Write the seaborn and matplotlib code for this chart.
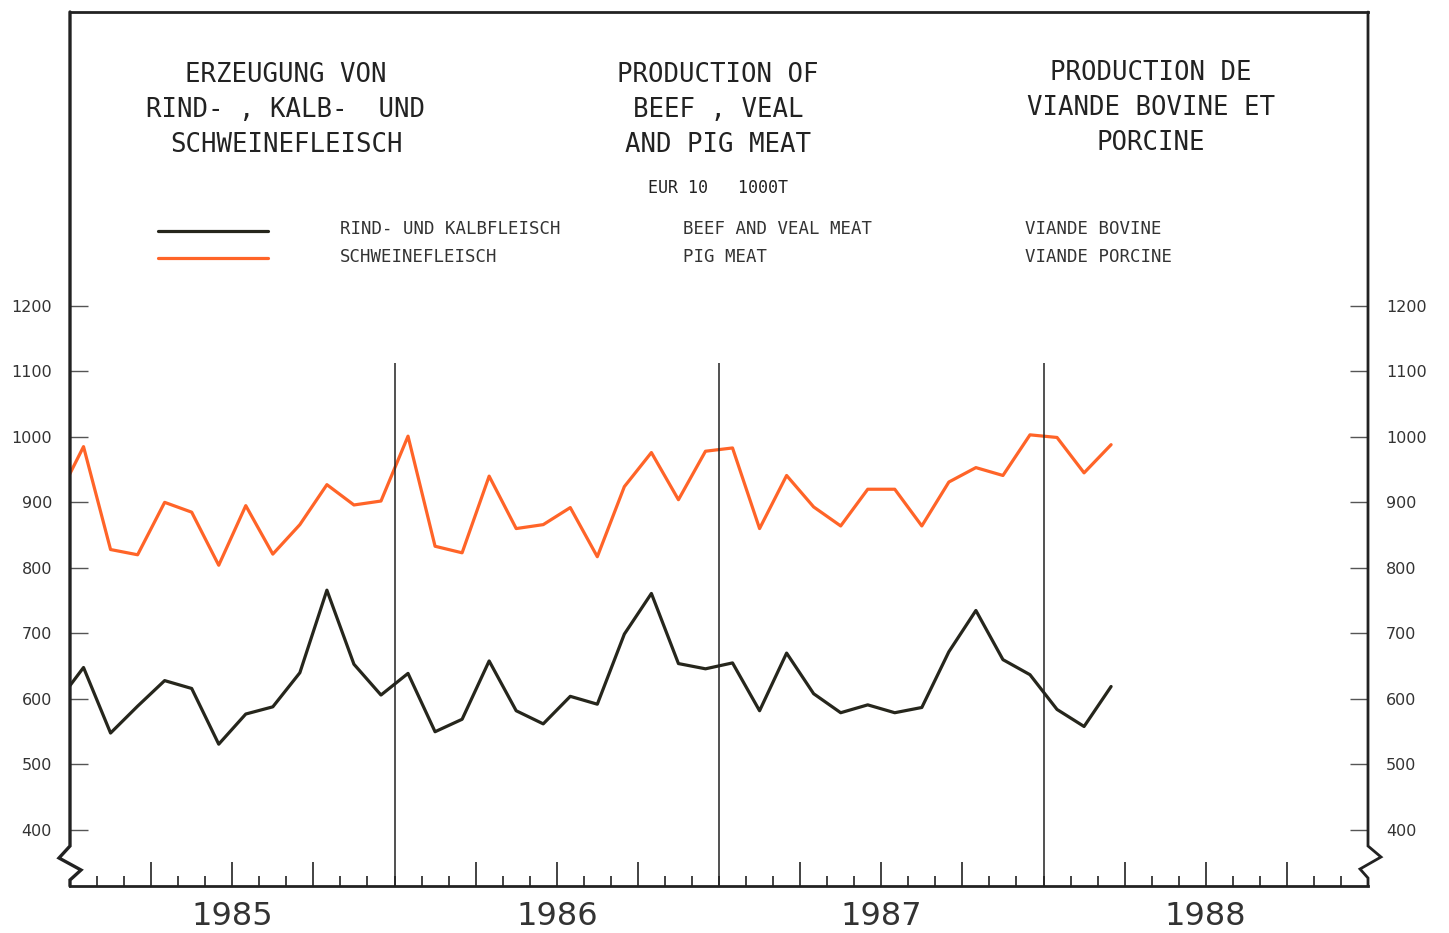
import numpy as np
import pandas as pd
import matplotlib
matplotlib.use('Agg')
import matplotlib.pyplot as plt
from matplotlib.lines import Line2D
import seaborn as sns

# ---- data (monthly, Dec 1984 .. Mar 1988), EUR 10, 1000 t ----
months = [str(p) for p in pd.period_range('1984-12', '1988-03', freq='M')]
beef_veal = [593, 648, 548, 589, 628, 616, 531, 577, 588, 640, 766, 653, 606,
             639, 550, 569, 658, 582, 562, 604, 592, 699, 761, 654, 646,
             655, 582, 670, 608, 579, 591, 579, 587, 672, 735, 660, 637,
             584, 558, 619]
pig_meat = [903, 985, 828, 820, 900, 885, 804, 895, 821, 866, 927, 896, 902,
            1001, 833, 823, 940, 860, 866, 892, 817, 924, 976, 904, 978,
            983, 860, 941, 893, 864, 920, 920, 864, 931, 953, 941, 1003,
            999, 945, 988]
years = ['1985', '1986', '1987', '1988']
y_ticks = [400, 500, 600, 700, 800, 900, 1000, 1100, 1200]

BLACK = '#26261c'
ORANGE = '#ff6428'
W, H = 1449, 933

def fx(px):
    return px / W

def fy(py):
    return 1 - py / H

sns.set_theme(style='white')
plt.rcParams['font.family'] = ['DejaVu Sans']

fig = plt.figure(figsize=(W / 100, H / 100), dpi=100)
fig.patch.set_facecolor('white')
ax = fig.add_axes([fx(70), fy(886), (1368 - 70) / W, (886 - 12) / H])
ax.set_facecolor('white')

per = pd.PeriodIndex(months, freq='M')
xpos = (per.year - 1985) * 12 + (per.month - 1) + 0.5
df = pd.DataFrame({'x': xpos, 'beef': beef_veal, 'pig': pig_meat})

sns.lineplot(data=df, x='x', y='beef', color=BLACK, lw=2.3, ax=ax, legend=False)
sns.lineplot(data=df, x='x', y='pig', color=ORANGE, lw=2.3, ax=ax, legend=False)

ax.set_xlim(0, 48)
ax.set_ylim(314.6, 1648.2)
ax.set_xlabel('')
ax.set_ylabel('')

# y axis both sides
ax.set_yticks(y_ticks)
ax.set_yticklabels([str(v) for v in y_ticks])
ax.tick_params(axis='y', which='major', direction='in', length=13, width=1,
               color='#555555', left=True, right=True, labelleft=True,
               labelright=True, pad=13, labelsize=11.5, labelcolor='#333333')
for lab in ax.get_yticklabels():
    lab.set_y(lab.get_position()[1])

# x axis: quarter ticks (long), monthly ticks (short), year labels mid-year
quarters = [m for m in range(1, 48) if m % 3 == 0 and m % 12 != 0]
ax.set_xticks(quarters)
labels = []
for m in quarters:
    if m % 12 == 6:
        labels.append(years[m // 12])
    else:
        labels.append('')
ax.set_xticklabels(labels)
ax.set_xticks(list(range(1, 48)), minor=True)
ax.tick_params(axis='x', which='major', direction='in', length=17, width=1.2,
               color='#222222', pad=11, labelsize=23, labelcolor='#333333',
               bottom=True)
ax.tick_params(axis='x', which='minor', direction='in', length=7.5, width=1.2,
               color='#222222', bottom=True)

# year separators
ax.vlines([12, 24, 36], ymin=314.6, ymax=1112, color='#222222', lw=1.1)

# frame
for s in ['left', 'right']:
    ax.spines[s].set_visible(False)
for s in ['top', 'bottom']:
    ax.spines[s].set_linewidth(2)
    ax.spines[s].set_color('#222222')

left_pts = [(70, 12), (70, 846), (59, 858), (81, 870), (70, 880), (70, 886)]
right_pts = [(1368, 12), (1368, 846), (1381, 857), (1360, 869), (1368, 878), (1368, 886)]
for pts, lw in [(left_pts, 2.4), (right_pts, 2.0)]:
    fig.add_artist(Line2D([fx(p[0]) for p in pts], [fy(p[1]) for p in pts],
                          color='#222222', lw=lw, solid_joinstyle='miter'))

# header text
mono = 'DejaVu Sans Mono'
title_kw = dict(family=mono, fontsize=18.5, color='#222222', ha='center', va='center')
for x, lines, ys in [
    (286, ['ERZEUGUNG VON', 'RIND- , KALB-  UND', 'SCHWEINEFLEISCH'], [75, 110, 145]),
    (718, ['PRODUCTION OF', 'BEEF , VEAL', 'AND PIG MEAT'], [75, 110, 145]),
    (1151, ['PRODUCTION DE', 'VIANDE BOVINE ET', 'PORCINE'], [73, 108, 143]),
]:
    for t, y in zip(lines, ys):
        fig.text(fx(x), fy(y), t, **title_kw)

fig.text(fx(718), fy(188), 'EUR 10   1000T', family=mono, fontsize=12,
         color='#222222', ha='center', va='center')

# legend
for y, c in [(231, BLACK), (258, ORANGE)]:
    fig.add_artist(Line2D([fx(158), fx(268)], [fy(y), fy(y)], color=c, lw=2.3))
leg_kw = dict(family=mono, fontsize=12.5, color='#333333', ha='left', va='center')
for x, a, b in [(340, 'RIND- UND KALBFLEISCH', 'SCHWEINEFLEISCH'),
                (683, 'BEEF AND VEAL MEAT', 'PIG MEAT'),
                (1025, 'VIANDE BOVINE', 'VIANDE PORCINE')]:
    fig.text(fx(x), fy(229), a, **leg_kw)
    fig.text(fx(x), fy(257), b, **leg_kw)

fig.savefig('out.png', dpi=100, facecolor='white')
